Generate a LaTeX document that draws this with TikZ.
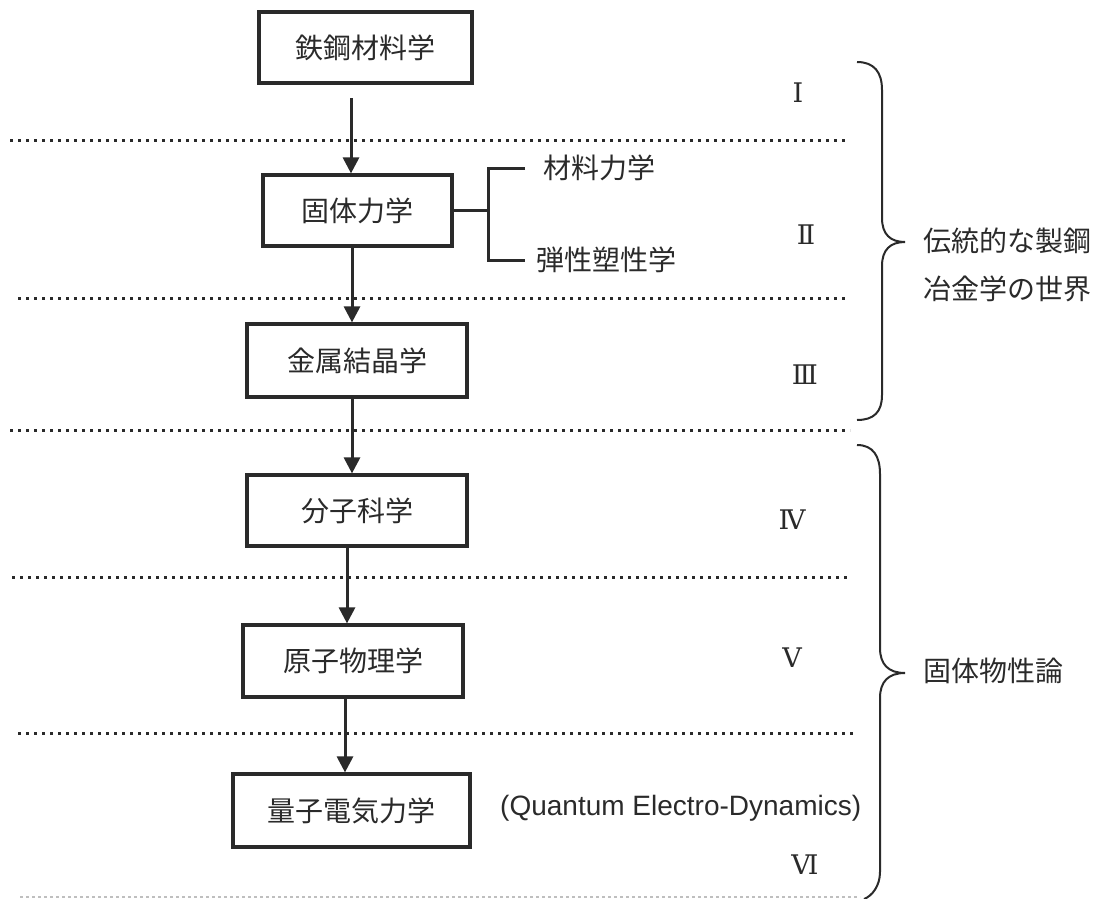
\documentclass[tikz,border=0pt]{standalone}
\usepackage{fontspec}
\setmainfont{Liberation Sans}
\newfontfamily\jp{Noto Sans CJK JP}
\newfontfamily\romfont{DejaVu Serif}
\usetikzlibrary{arrows.meta}
\definecolor{ink}{HTML}{2A2A2A}
\begin{document}
\begin{tikzpicture}[x=1pt,y=-1pt,
  box/.style={draw=ink, line width=3.2pt, fill=white, inner sep=0pt, text=ink,
    font=\jp\fontsize{28}{32}\selectfont},
  arr/.style={draw=ink, line width=3pt, -{Triangle[length=16pt,width=16pt]}},
  conn/.style={draw=ink, line width=3pt},
  sepline/.style={draw=ink, line width=3pt, dash pattern=on 3pt off 5pt},
  brace/.style={draw=ink, line width=2pt},
  jptext/.style={inner sep=0pt, text=ink, font=\jp\fontsize{28}{32}\selectfont},
  roman/.style={inner sep=0pt, text=ink, font=\romfont\fontsize{27}{30}\selectfont},
  entext/.style={inner sep=0pt, text=ink, font=\fontsize{28}{32}\selectfont}]
\useasboundingbox (0,0) rectangle (1103,899);

% separators
\draw[sepline] (10,140) -- (847,140);
\draw[sepline] (18,298) -- (848,298);
\draw[sepline] (10,430) -- (850,430);
\draw[sepline] (12,577) -- (850,577);
\draw[sepline] (18,733) -- (856,733);
\draw[draw=black!25, line width=2pt, dash pattern=on 3pt off 3pt] (20,897) -- (860,897);

% boxes
\node[box, minimum width=213pt, minimum height=71pt] (b1) at (365.5,47.5) {鉄鋼材料学};
\node[box, minimum width=189pt, minimum height=71pt] (b2) at (357.5,210.5) {固体力学};
\node[box, minimum width=220pt, minimum height=73pt] (b3) at (357,360.5) {金属結晶学};
\node[box, minimum width=220pt, minimum height=71pt] (b4) at (357,510.5) {分子科学};
\node[box, minimum width=220pt, minimum height=72pt] (b5) at (353,661) {原子物理学};
\node[box, minimum width=237pt, minimum height=73pt] (b6) at (351.5,810.5) {量子電気力学};

% arrows
\coordinate (a1) at (351,98);
\coordinate (a2) at (352,0);
\coordinate (a3) at (352,0);
\coordinate (a4) at (347,0);
\coordinate (a5) at (345,0);
\draw[arr] (a1) -- (a1 |- b2.north);
\draw[arr] (a2 |- b2.south) -- (a2 |- b3.north);
\draw[arr] (a3 |- b3.south) -- (a3 |- b4.north);
\draw[arr] (a4 |- b4.south) -- (a4 |- b5.north);
\draw[arr] (a5 |- b5.south) -- (a5 |- b6.north);

% branch
\node[jptext, anchor=west] (t1) at (543,168) {材料力学};
\node[jptext, anchor=west] (t2) at (536,260) {弾性塑性学};
\coordinate (j) at (488,210);
\coordinate (c1) at (525,168);
\coordinate (c2) at (525,260);
\draw[conn] (b2.east) -- (b2.east -| j);
\draw[conn, line join=miter] (c1) -- (c1 -| j) -- (c2 -| j) -- (c2);

% roman numerals
\node[roman] (r1) at (798,93) {Ⅰ};
\node[roman] (r2) at (806,235) {Ⅱ};
\node[roman] (r3) at (805,375) {Ⅲ};
\node[roman] (r4) at (792,520) {Ⅳ};
\node[roman] (r5) at (792,658) {Ⅴ};
\node[roman] (r6) at (805,865) {Ⅵ};

% english
\node[entext, anchor=west] (qed) at (500,808) {(Quantum Electro-Dynamics)};

% braces
\draw[brace] (857,62) .. controls (874,62) and (882,72) .. (882,90)
  -- (882,218) .. controls (882,234) and (890,242) .. (905,242)
  .. controls (890,242) and (882,250) .. (882,266)
  -- (882,395) .. controls (882,412) and (874,420) .. (857,420);
\draw[brace] (857,445) .. controls (873,445) and (880,456) .. (880,474)
  -- (880,648) .. controls (880,664) and (888,673) .. (905,673)
  .. controls (888,673) and (880,682) .. (880,698)
  -- (880,872) .. controls (880,886) and (872,896) .. (864,899);

% right labels
\node[jptext, anchor=west] (g1a) at (923,241) {伝統的な製鋼};
\node[jptext, anchor=west] (g1b) at (923,289) {冶金学の世界};
\node[jptext, anchor=west] (g2) at (923,671) {固体物性論};
\end{tikzpicture}
\end{document}
